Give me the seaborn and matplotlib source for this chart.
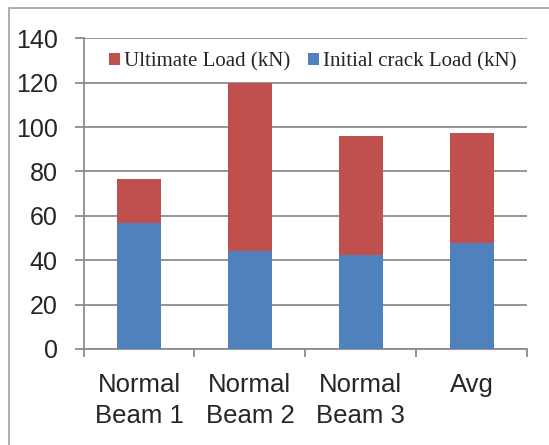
import matplotlib
matplotlib.use("Agg")
import matplotlib.pyplot as plt
from matplotlib.patches import Patch, Rectangle
import seaborn as sns
import pandas as pd

categories = ["Normal\nBeam 1", "Normal\nBeam 2", "Normal\nBeam 3", "Avg"]
ultimate_load = [76.5, 120.0, 96.0, 97.5]
initial_crack_load = [57.0, 44.0, 42.2, 47.7]
y_ticks = [0, 20, 40, 60, 80, 100, 120, 140]

RED = "#C0504D"
BLUE = "#4F81BD"
GRID = "#8C8C8C"

sns.set_theme(style="white")
plt.rcParams["font.family"] = ["Liberation Sans", "DejaVu Sans"]

df = pd.DataFrame({"beam": categories, "ultimate": ultimate_load, "initial": initial_crack_load})

W, H = 549, 445
fig = plt.figure(figsize=(W / 100, H / 100), dpi=100)
ax = fig.add_axes([83.5 / W, 1 - 349 / H, (527.3 - 83.5) / W, (349 - 38.3) / H])

# outer chart border
fig.patches.append(Rectangle((9 / W, -0.1), 1.2, 1 - 8.5 / H + 0.1, transform=fig.transFigure,
                             fill=False, edgecolor="#A0A0A0", linewidth=1.2, zorder=0))

sns.barplot(data=df, x="beam", y="ultimate", color=RED, width=0.4, saturation=1,
            linewidth=0, edgecolor="none", ax=ax, zorder=3)
sns.barplot(data=df, x="beam", y="initial", color=BLUE, width=0.4, saturation=1,
            linewidth=0, edgecolor="none", ax=ax, zorder=4)

ax.set_xlim(-0.5, len(categories) - 0.5)
ax.set_ylim(0, 140)
ax.set_xlabel("")
ax.set_ylabel("")

ax.set_yticks(y_ticks)
ax.set_yticklabels([str(t) for t in y_ticks])
ax.yaxis.grid(True, color=GRID, linewidth=1.3, zorder=0)
ax.set_axisbelow(True)

# category boundary ticks, labels centred under each bar
ax.set_xticks([i - 0.5 for i in range(len(categories) + 1)])
ax.set_xticklabels([""] * (len(categories) + 1))
ax.set_xticks(range(len(categories)), minor=True)
ax.set_xticklabels(categories, minor=True, fontsize=18.5, linespacing=1.38)
ax.tick_params(axis="x", which="major", bottom=True, direction="out", length=5.8, width=1.3, color=GRID)
ax.tick_params(axis="x", which="minor", bottom=True, length=0, pad=17)
ax.tick_params(axis="y", left=True, direction="out", length=6.5, width=1.3, color=GRID,
               labelsize=18, pad=12)

for s in ["top", "right"]:
    ax.spines[s].set_visible(False)
for s in ["left", "bottom"]:
    ax.spines[s].set_color(GRID)
    ax.spines[s].set_linewidth(1.3)

handles = [Patch(facecolor=RED, edgecolor="none", label="Ultimate Load (kN)"),
           Patch(facecolor=BLUE, edgecolor="none", label="Initial crack Load (kN)")]
ax.legend(handles=handles, loc="center", bbox_to_anchor=(0.517, 0.924), ncol=2, frameon=False,
          prop={"family": "Liberation Serif", "size": 15}, handlelength=0.52, handleheight=0.52,
          handletextpad=0.2, columnspacing=0.86, borderpad=0, borderaxespad=0)

fig.savefig("out.png", dpi=100)
